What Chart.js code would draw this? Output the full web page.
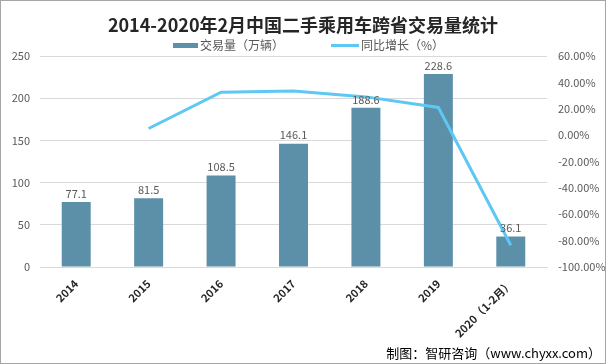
<!DOCTYPE html>
<html>
<head>
<meta charset="utf-8">
<script src="https://cdn.jsdelivr.net/npm/chart.js@4.4.1/dist/chart.umd.min.js"></script>
<style>
  html, body { margin: 0; padding: 0; background: #fff; }
  #wrap { width: 606px; height: 364px; position: relative; }
</style>
</head>
<body>
<div id="wrap"><canvas id="chart"></canvas></div>
<script>
// data
var years = ["2014", "2015", "2016", "2017", "2018", "2019", "2020（1-2月）"];
var volume = [77.1, 81.5, 108.5, 146.1, 188.6, 228.6, 36.1];
var growth = [null, 5.0, 32.5, 33.5, 29.0, 21.0, -83.5];
var seriesNames = ["交易量（万辆）", "同比增长（%）"];

var barColor = "#5B90A8";
var lineColor = "#5CC8F3";
var textColor = "#595959";
var fontName = "'Noto Sans CJK SC', 'Noto Sans', sans-serif";

// value labels on top of bars
var barLabels = {
    id: "barLabels",
    afterDatasetsDraw: function (chart) {
        var ctx = chart.ctx;
        var meta = chart.getDatasetMeta(0);
        ctx.save();
        ctx.font = "11px " + fontName;
        ctx.fillStyle = textColor;
        ctx.textAlign = "center";
        ctx.textBaseline = "bottom";
        meta.data.forEach(function (bar, i) {
            ctx.fillText(volume[i].toFixed(1), bar.x, bar.y - 3);
        });
        ctx.restore();
    }
};

// legend (spaced like the original), footer note and frame
var extras = {
    id: "extras",
    afterDraw: function (chart) {
        var ctx = chart.ctx;
        ctx.save();
        ctx.font = "12px " + fontName;
        ctx.fillStyle = textColor;
        ctx.textAlign = "left";
        ctx.textBaseline = "middle";
        // bar item
        ctx.fillStyle = barColor;
        ctx.fillRect(173, 43, 25, 5);
        ctx.fillStyle = textColor;
        ctx.fillText(seriesNames[0], 200, 45);
        // line item
        ctx.strokeStyle = lineColor;
        ctx.lineWidth = 3;
        ctx.beginPath();
        ctx.moveTo(331, 45.5);
        ctx.lineTo(359, 45.5);
        ctx.stroke();
        ctx.fillText(seriesNames[1], 361, 45);

        ctx.font = "13px " + fontName;
        ctx.fillStyle = "#000";
        ctx.textAlign = "right";
        ctx.fillText("制图：智研咨询（www.chyxx.com）", 601, 353);

        ctx.strokeStyle = "#A6A6A6";
        ctx.lineWidth = 1;
        ctx.strokeRect(0.5, 0.5, 605, 363);
        ctx.restore();
    }
};

var ctx = document.getElementById("chart").getContext("2d");
var myChart = new Chart(ctx, {
    type: "bar",
    data: {
        labels: years,
        datasets: [
            {
                type: "bar",
                label: seriesNames[0],
                data: volume,
                backgroundColor: barColor,
                borderWidth: 0,
                barPercentage: 0.8,
                categoryPercentage: 0.5,
                yAxisID: "y",
                order: 2
            },
            {
                type: "line",
                label: seriesNames[1],
                data: growth,
                borderColor: lineColor,
                backgroundColor: lineColor,
                borderWidth: 3,
                pointRadius: 0,
                tension: 0,
                yAxisID: "y1",
                order: 1
            }
        ]
    },
    options: {
        responsive: true,
        maintainAspectRatio: false,
        animation: false,
        layout: { padding: { left: 0, right: 0, top: 0, bottom: 0 } },
        plugins: {
            title: {
                display: true,
                text: "2014-2020年2月中国二手乘用车跨省交易量统计",
                color: "#262626",
                font: { family: fontName, size: 18, weight: "bold" },
                padding: { top: 14, bottom: 20.4 }
            },
            legend: { display: false },
            tooltip: { enabled: false }
        },
        scales: {
            x: {
                grid: { display: false },
                border: { color: "#D9D9D9" },
                ticks: {
                    color: "#262626",
                    font: { family: fontName, size: 11, weight: "bold" },
                    minRotation: 45,
                    maxRotation: 45,
                    padding: 2
                },
                afterFit: function (axis) { axis.height = 97; }
            },
            y: {
                position: "left",
                min: 0,
                max: 250,
                ticks: {
                    stepSize: 50,
                    color: textColor,
                    font: { family: fontName, size: 11 },
                    padding: 10
                },
                grid: { color: "#D9D9D9", drawTicks: false },
                border: { display: false },
                afterFit: function (axis) { axis.width = 40; }
            },
            y1: {
                position: "right",
                min: -100,
                max: 60,
                ticks: {
                    stepSize: 20,
                    color: textColor,
                    font: { family: fontName, size: 11 },
                    padding: 11,
                    callback: function (v) { return v.toFixed(2) + "%"; }
                },
                grid: { display: false, drawTicks: false },
                border: { display: false },
                afterFit: function (axis) { axis.width = 59; }
            }
        }
    },
    plugins: [barLabels, extras]
});
</script>
</body>
</html>
